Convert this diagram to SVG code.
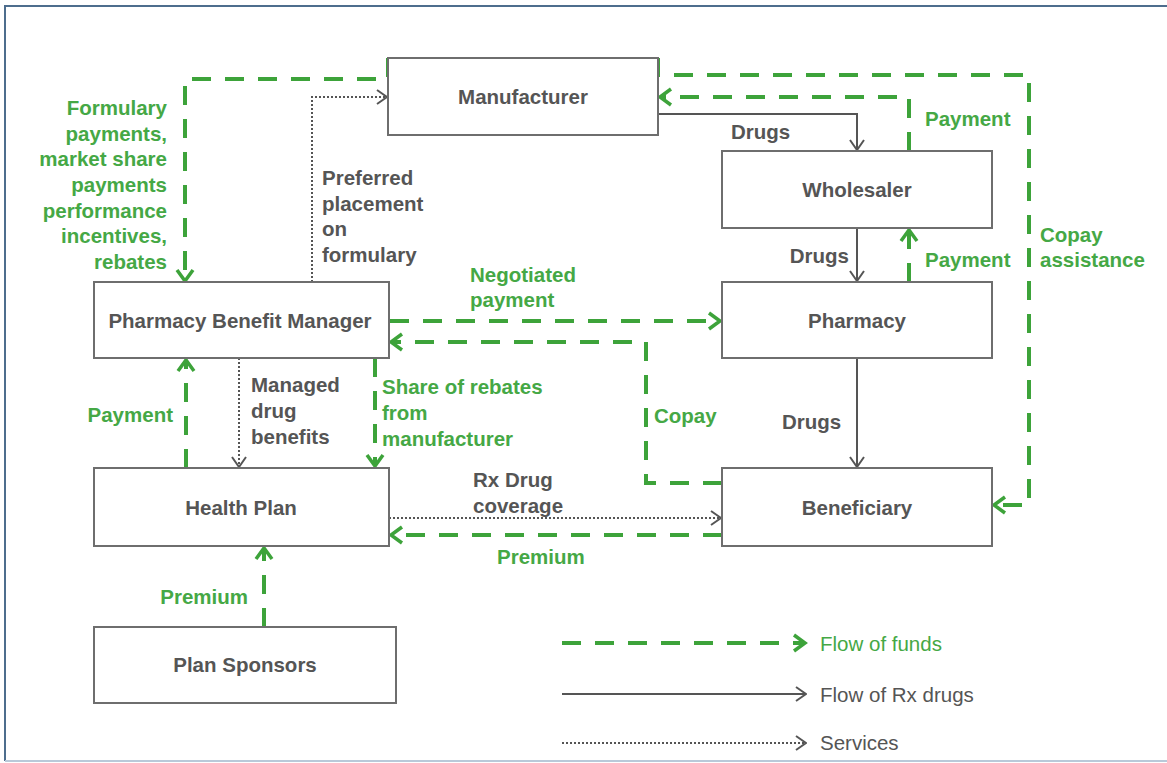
<svg xmlns="http://www.w3.org/2000/svg" width="1167" height="763" viewBox="0 0 1167 763">
<style>
.bg{fill:#ffffff}
.box{fill:#ffffff;stroke:#6e6e6e;stroke-width:2}
.nt{font-family:"Liberation Sans",Arial,sans-serif;font-weight:bold;font-size:20.5px;fill:#555555;text-anchor:middle}
.gl{font-family:"Liberation Sans",Arial,sans-serif;font-weight:bold;font-size:20.5px;fill:#45a845}
.kl{font-family:"Liberation Sans",Arial,sans-serif;font-weight:bold;font-size:20.5px;fill:#555555}
.lg{font-family:"Liberation Sans",Arial,sans-serif;font-size:20.5px}
.fund{fill:none;stroke:#3da33a;stroke-width:4;stroke-dasharray:19 14;marker-end:url(#ag)}
.drug{fill:none;stroke:#555555;stroke-width:2;marker-end:url(#ak)}
.serv{fill:none;stroke:#555555;stroke-width:2;stroke-dasharray:2 2;marker-end:url(#ak)}
</style>
<defs>
<marker id="ag" markerUnits="userSpaceOnUse" viewBox="0 0 16 20" refX="13" refY="10" markerWidth="16" markerHeight="20" orient="auto">
<path d="M2,2 L13,10 L2,18" fill="none" stroke="#3da33a" stroke-width="3.5" stroke-dasharray="none"/>
</marker>
<marker id="ak" markerUnits="userSpaceOnUse" viewBox="0 0 12 16" refX="11" refY="8" markerWidth="12" markerHeight="16" orient="auto">
<path d="M1,1 L11,8 L1,15" fill="none" stroke="#555555" stroke-width="2" stroke-dasharray="none"/>
</marker>
</defs>
<rect class="bg" x="0" y="0" width="1167" height="763"/>
<path d="M5,761 L5,6 L1167,6" fill="none" stroke="#4d6d8d" stroke-width="2"/>
<path d="M5,761 L1167,761" fill="none" stroke="#b9c9d9" stroke-width="2"/>

<g id="connectors">
<path class="fund" d="M388,58 L388,79 L185,79 L185,281"/>
<path class="fund" d="M658,58 L658,75 L1029,75 L1029,505 L994,505"/>
<path class="fund" d="M909,151 L909,97 L660,97"/>
<path class="fund" d="M909,282 L909,230"/>
<path class="fund" d="M390,321 L720,321"/>
<path class="fund" d="M722,483 L646,483 L646,342 L391,342"/>
<path class="fund" d="M375,358 L375,466"/>
<path class="fund" d="M186,468 L186,360"/>
<path class="fund" d="M722,535 L391,535"/>
<path class="fund" d="M264,627 L264,548"/>
<path class="drug" d="M658,114 L857,114 L857,150"/>
<path class="drug" d="M857,228 L857,281"/>
<path class="drug" d="M857,358 L857,467"/>
<path class="serv" d="M312,282 L312,97 L387,97"/>
<path class="serv" d="M239,358 L239,467"/>
<path class="serv" d="M389,518 L721,518"/>
</g>

<g id="labels">
<text class="gl" text-anchor="end" x="167"><tspan x="167" y="115">Formulary</tspan><tspan x="167" y="140.7">payments,</tspan><tspan x="167" y="166.4">market share</tspan><tspan x="167" y="192">payments</tspan><tspan x="167" y="217.7">performance</tspan><tspan x="167" y="243.4">incentives,</tspan><tspan x="167" y="269">rebates</tspan></text>
<text class="kl"><tspan x="322" y="185">Preferred</tspan><tspan x="322" y="210.7">placement</tspan><tspan x="322" y="236.4">on</tspan><tspan x="322" y="262">formulary</tspan></text>
<text class="kl" x="731" y="139">Drugs</text>
<text class="gl" x="925" y="126">Payment</text>
<text class="kl" text-anchor="end" x="849" y="263">Drugs</text>
<text class="gl" x="925" y="267">Payment</text>
<text class="gl"><tspan x="1040" y="242">Copay</tspan><tspan x="1040" y="267">assistance</tspan></text>
<text class="gl"><tspan x="470" y="282">Negotiated</tspan><tspan x="470" y="307">payment</tspan></text>
<text class="kl"><tspan x="251" y="392">Managed</tspan><tspan x="251" y="418">drug</tspan><tspan x="251" y="444">benefits</tspan></text>
<text class="gl"><tspan x="382" y="394">Share of rebates</tspan><tspan x="382" y="420">from</tspan><tspan x="382" y="446">manufacturer</tspan></text>
<text class="gl" text-anchor="end" x="173" y="422">Payment</text>
<text class="gl" x="654" y="423">Copay</text>
<text class="kl" x="782" y="429">Drugs</text>
<text class="kl"><tspan x="473" y="487">Rx Drug</tspan><tspan x="473" y="513">coverage</tspan></text>
<text class="gl" x="497" y="564">Premium</text>
<text class="gl" text-anchor="end" x="248" y="604">Premium</text>
</g>

<g id="manufacturer"><rect class="box" x="388" y="58" width="270" height="77"/><text class="nt" x="523" y="104">Manufacturer</text></g>
<g id="wholesaler"><rect class="box" x="722" y="151" width="270" height="77"/><text class="nt" x="857" y="197">Wholesaler</text></g>
<g id="pharmacy"><rect class="box" x="722" y="282" width="270" height="76"/><text class="nt" x="857" y="328">Pharmacy</text></g>
<g id="beneficiary"><rect class="box" x="722" y="468" width="270" height="78"/><text class="nt" x="857" y="515">Beneficiary</text></g>
<g id="pbm"><rect class="box" x="94" y="282" width="295" height="76"/><text class="nt" x="240" y="328">Pharmacy Benefit Manager</text></g>
<g id="health-plan"><rect class="box" x="94" y="468" width="295" height="78"/><text class="nt" x="241" y="515">Health Plan</text></g>
<g id="plan-sponsors"><rect class="box" x="94" y="627" width="302" height="76"/><text class="nt" x="245" y="672">Plan Sponsors</text></g>

<g id="legend">
<path class="fund" d="M562,643 L805,643"/>
<path class="drug" d="M562,694 L806,694"/>
<path class="serv" d="M562,743 L806,743"/>
<text class="lg" x="820" y="651" fill="#45a845">Flow of funds</text>
<text class="lg" x="820" y="702" fill="#555555">Flow of Rx drugs</text>
<text class="lg" x="820" y="750" fill="#555555">Services</text>
</g>
</svg>
